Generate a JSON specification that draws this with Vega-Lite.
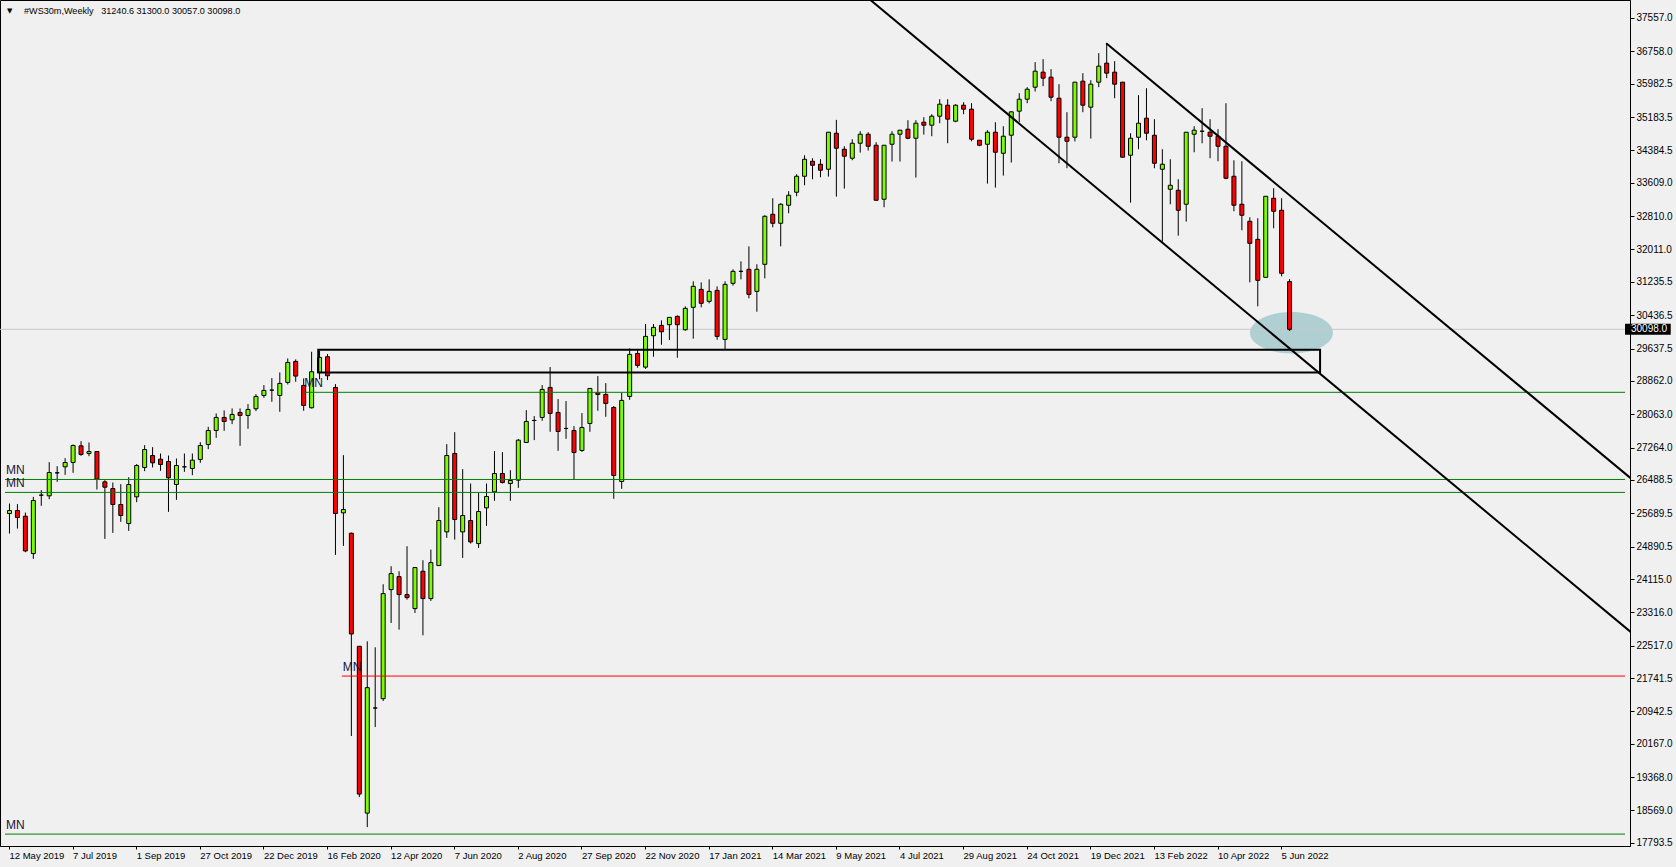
{
"$schema":"https://vega.github.io/schema/vega-lite/v6.json",
"width":1630,"height":846,
"autosize":{"type":"none"},
"padding":{"left":0,"top":0,"right":46,"bottom":21},
"background":"#F0F0F0",
"config":{"view":{"stroke":"#000000","strokeWidth":1,"fill":"#F0F0F0"},"font":"Liberation Sans",
 "axis":{"grid":false,"labelOverlap":false,"labelFlush":false,"labelBound":false,"labelColor":"#000000","tickColor":"#000000","domainColor":"#000000","domainWidth":1,"labelFont":"Liberation Sans","labelFontSize":10,"titleFontSize":0},
 "axisX":{"tickSize":3,"labelAlign":"left","labelBaseline":"top","labelPadding":1,"labelDx":-1,"labelFontSize":9.5,"labelOverlap":false},
 "axisY":{"tickSize":4,"labelAlign":"left","labelBaseline":"middle","labelPadding":2,"labelFontSize":10,"labelOverlap":false}},
"datasets":{
"candles":[
{"date":"2019-05-12","open":25684,"high":25924,"low":25204,"close":25756},
{"date":"2019-05-19","open":25756,"high":25908,"low":25324,"close":25588},
{"date":"2019-05-26","open":25620,"high":25708,"low":24757,"close":24788},
{"date":"2019-06-02","open":24724,"high":26084,"low":24597,"close":25996},
{"date":"2019-06-09","open":26124,"high":26244,"low":25868,"close":26124},
{"date":"2019-06-16","open":26108,"high":26915,"low":26028,"close":26667},
{"date":"2019-06-23","open":26659,"high":26819,"low":26443,"close":26659},
{"date":"2019-06-30","open":26803,"high":27011,"low":26611,"close":26907},
{"date":"2019-07-07","open":26907,"high":27338,"low":26659,"close":27314},
{"date":"2019-07-14","open":27306,"high":27418,"low":27066,"close":27098},
{"date":"2019-07-21","open":27122,"high":27386,"low":27058,"close":27170},
{"date":"2019-07-28","open":27170,"high":27180,"low":26259,"close":26507},
{"date":"2019-08-04","open":26443,"high":26483,"low":25077,"close":26315},
{"date":"2019-08-11","open":26283,"high":26427,"low":25220,"close":25900},
{"date":"2019-08-18","open":25900,"high":26387,"low":25484,"close":25636},
{"date":"2019-08-25","open":25444,"high":26555,"low":25268,"close":26379},
{"date":"2019-09-01","open":26084,"high":26867,"low":25956,"close":26835},
{"date":"2019-09-08","open":26787,"high":27322,"low":26699,"close":27218},
{"date":"2019-09-15","open":27074,"high":27274,"low":26787,"close":26899},
{"date":"2019-09-22","open":26987,"high":27122,"low":26707,"close":26859},
{"date":"2019-09-29","open":26931,"high":27074,"low":25724,"close":26539},
{"date":"2019-10-06","open":26379,"high":27002,"low":26012,"close":26835},
{"date":"2019-10-13","open":26803,"high":27122,"low":26683,"close":26803},
{"date":"2019-10-20","open":26763,"high":27122,"low":26603,"close":26963},
{"date":"2019-10-27","open":26979,"high":27394,"low":26899,"close":27314},
{"date":"2019-11-03","open":27338,"high":27762,"low":27226,"close":27674},
{"date":"2019-11-10","open":27674,"high":28082,"low":27498,"close":27986},
{"date":"2019-11-17","open":27986,"high":28154,"low":27666,"close":27890},
{"date":"2019-11-24","open":27930,"high":28202,"low":27826,"close":28058},
{"date":"2019-12-01","open":28106,"high":28202,"low":27306,"close":28034},
{"date":"2019-12-08","open":28034,"high":28306,"low":27714,"close":28178},
{"date":"2019-12-15","open":28194,"high":28545,"low":28138,"close":28489},
{"date":"2019-12-22","open":28513,"high":28761,"low":28457,"close":28633},
{"date":"2019-12-29","open":28641,"high":28929,"low":28362,"close":28641},
{"date":"2020-01-05","open":28513,"high":29065,"low":28122,"close":28801},
{"date":"2020-01-12","open":28825,"high":29401,"low":28777,"close":29305},
{"date":"2020-01-19","open":29329,"high":29377,"low":28841,"close":28977},
{"date":"2020-01-26","open":28753,"high":28921,"low":28146,"close":28274},
{"date":"2020-02-02","open":28218,"high":29560,"low":28202,"close":29081},
{"date":"2020-02-09","open":29065,"high":29580,"low":28900,"close":29425},
{"date":"2020-02-16","open":29440,"high":29504,"low":28881,"close":28985},
{"date":"2020-02-23","open":28705,"high":28785,"low":24693,"close":25684},
{"date":"2020-03-01","open":25700,"high":27083,"low":24908,"close":25780},
{"date":"2020-03-08","open":25212,"high":25228,"low":20353,"close":22798},
{"date":"2020-03-15","open":22503,"high":22510,"low":18890,"close":18962},
{"date":"2020-03-22","open":18506,"high":22622,"low":18170,"close":21512},
{"date":"2020-03-29","open":21024,"high":22479,"low":20568,"close":21024},
{"date":"2020-04-05","open":21248,"high":23989,"low":21192,"close":23766},
{"date":"2020-04-12","open":23861,"high":24421,"low":23062,"close":24245},
{"date":"2020-04-19","open":24173,"high":24301,"low":22902,"close":23742},
{"date":"2020-04-26","open":23742,"high":24900,"low":23622,"close":23670},
{"date":"2020-05-03","open":23406,"high":24395,"low":23302,"close":24389},
{"date":"2020-05-10","open":24301,"high":24565,"low":22766,"close":23646},
{"date":"2020-05-17","open":23646,"high":24820,"low":23590,"close":24508},
{"date":"2020-05-24","open":24437,"high":25836,"low":24430,"close":25516},
{"date":"2020-05-31","open":25244,"high":27346,"low":25100,"close":27075},
{"date":"2020-06-07","open":27123,"high":27634,"low":25060,"close":25540},
{"date":"2020-06-14","open":25244,"high":26747,"low":24620,"close":25636},
{"date":"2020-06-21","open":25516,"high":26403,"low":24964,"close":25004},
{"date":"2020-06-28","open":24964,"high":26179,"low":24860,"close":25732},
{"date":"2020-07-05","open":25820,"high":26403,"low":25388,"close":26092},
{"date":"2020-07-12","open":26204,"high":27179,"low":25988,"close":26643},
{"date":"2020-07-19","open":26643,"high":27155,"low":26403,"close":26427},
{"date":"2020-07-26","open":26403,"high":26723,"low":25988,"close":26475},
{"date":"2020-08-02","open":26483,"high":27466,"low":26299,"close":27442},
{"date":"2020-08-09","open":27386,"high":28162,"low":27380,"close":27890},
{"date":"2020-08-16","open":27914,"high":28018,"low":27442,"close":27914},
{"date":"2020-08-23","open":27986,"high":28761,"low":27906,"close":28657},
{"date":"2020-08-30","open":28705,"high":29193,"low":27642,"close":28082},
{"date":"2020-09-06","open":28106,"high":28426,"low":27186,"close":27650},
{"date":"2020-09-13","open":27722,"high":28378,"low":27474,"close":27722},
{"date":"2020-09-20","open":27674,"high":27778,"low":26507,"close":27146},
{"date":"2020-09-27","open":27194,"high":28090,"low":27162,"close":27746},
{"date":"2020-10-04","open":27842,"high":28690,"low":27642,"close":28681},
{"date":"2020-10-11","open":28577,"high":28977,"low":28146,"close":28537},
{"date":"2020-10-18","open":28537,"high":28809,"low":28002,"close":28322},
{"date":"2020-10-25","open":28226,"high":28258,"low":26036,"close":26595},
{"date":"2020-11-01","open":26451,"high":28577,"low":26275,"close":28394},
{"date":"2020-11-08","open":28490,"high":29640,"low":28410,"close":29497},
{"date":"2020-11-15","open":29520,"high":29620,"low":29177,"close":29233},
{"date":"2020-11-22","open":29192,"high":30224,"low":29150,"close":29928},
{"date":"2020-11-29","open":29944,"high":30224,"low":29441,"close":30144},
{"date":"2020-12-06","open":30192,"high":30312,"low":29728,"close":30040},
{"date":"2020-12-13","open":30208,"high":30390,"low":29840,"close":30384},
{"date":"2020-12-20","open":30408,"high":30432,"low":29417,"close":30208},
{"date":"2020-12-27","open":30088,"high":30648,"low":30064,"close":30600},
{"date":"2021-01-03","open":30624,"high":31247,"low":29872,"close":31127},
{"date":"2021-01-10","open":31055,"high":31223,"low":30624,"close":30720},
{"date":"2021-01-17","open":30768,"high":31295,"low":30720,"close":31007},
{"date":"2021-01-24","open":31031,"high":31127,"low":29848,"close":29928},
{"date":"2021-01-31","open":29856,"high":31247,"low":29617,"close":31175},
{"date":"2021-02-07","open":31199,"high":31535,"low":31143,"close":31487},
{"date":"2021-02-14","open":31487,"high":31727,"low":31295,"close":31487},
{"date":"2021-02-21","open":31535,"high":32086,"low":30840,"close":30935},
{"date":"2021-02-28","open":31007,"high":31655,"low":30520,"close":31535},
{"date":"2021-03-07","open":31655,"high":32830,"low":31319,"close":32806},
{"date":"2021-03-14","open":32854,"high":33238,"low":32542,"close":32638},
{"date":"2021-03-21","open":32638,"high":33118,"low":32086,"close":33094},
{"date":"2021-03-28","open":33070,"high":33406,"low":32878,"close":33310},
{"date":"2021-04-04","open":33382,"high":33813,"low":33286,"close":33765},
{"date":"2021-04-11","open":33765,"high":34268,"low":33549,"close":34172},
{"date":"2021-04-18","open":34124,"high":34196,"low":33693,"close":34028},
{"date":"2021-04-25","open":34052,"high":34172,"low":33741,"close":33909},
{"date":"2021-05-02","open":33933,"high":34825,"low":33757,"close":34820},
{"date":"2021-05-09","open":34796,"high":35116,"low":33278,"close":34436},
{"date":"2021-05-16","open":34412,"high":34484,"low":33469,"close":34245},
{"date":"2021-05-23","open":34197,"high":34652,"low":34149,"close":34556},
{"date":"2021-05-30","open":34556,"high":34844,"low":34332,"close":34772},
{"date":"2021-06-06","open":34772,"high":34820,"low":34380,"close":34484},
{"date":"2021-06-13","open":34508,"high":34580,"low":33185,"close":33190},
{"date":"2021-06-20","open":33214,"high":34515,"low":33022,"close":34508},
{"date":"2021-06-27","open":34532,"high":34844,"low":34117,"close":34772},
{"date":"2021-07-04","open":34772,"high":34875,"low":34117,"close":34868},
{"date":"2021-07-11","open":34892,"high":35108,"low":34652,"close":34676},
{"date":"2021-07-18","open":34676,"high":35108,"low":33733,"close":35036},
{"date":"2021-07-25","open":35060,"high":35180,"low":34764,"close":34988},
{"date":"2021-08-01","open":34988,"high":35252,"low":34724,"close":35204},
{"date":"2021-08-08","open":35204,"high":35611,"low":35036,"close":35492},
{"date":"2021-08-15","open":35467,"high":35611,"low":34556,"close":35132},
{"date":"2021-08-22","open":35084,"high":35492,"low":35060,"close":35467},
{"date":"2021-08-29","open":35467,"high":35539,"low":35252,"close":35372},
{"date":"2021-09-05","open":35372,"high":35516,"low":34604,"close":34652},
{"date":"2021-09-12","open":34628,"high":34635,"low":34484,"close":34508},
{"date":"2021-09-19","open":34532,"high":34868,"low":33589,"close":34820},
{"date":"2021-09-26","open":34820,"high":35060,"low":33493,"close":34340},
{"date":"2021-10-03","open":34316,"high":34964,"low":33781,"close":34724},
{"date":"2021-10-10","open":34748,"high":35324,"low":34093,"close":35308},
{"date":"2021-10-17","open":35324,"high":35755,"low":35060,"close":35611},
{"date":"2021-10-24","open":35611,"high":35899,"low":35516,"close":35851},
{"date":"2021-10-31","open":35899,"high":36499,"low":35795,"close":36283},
{"date":"2021-11-07","open":36259,"high":36571,"low":35923,"close":36115},
{"date":"2021-11-14","open":36139,"high":36331,"low":35563,"close":35659},
{"date":"2021-11-21","open":35635,"high":35971,"low":34077,"close":34700},
{"date":"2021-11-28","open":34700,"high":35300,"low":33957,"close":34604},
{"date":"2021-12-05","open":34700,"high":36025,"low":34600,"close":36019},
{"date":"2021-12-12","open":36043,"high":36235,"low":35300,"close":35467},
{"date":"2021-12-19","open":35420,"high":36067,"low":34668,"close":35971},
{"date":"2021-12-26","open":36019,"high":36715,"low":35899,"close":36403},
{"date":"2022-01-02","open":36475,"high":36954,"low":36115,"close":36235},
{"date":"2022-01-09","open":36259,"high":36523,"low":35635,"close":35971},
{"date":"2022-01-16","open":36019,"high":36025,"low":34215,"close":34221},
{"date":"2022-01-23","open":34269,"high":34796,"low":33133,"close":34676},
{"date":"2022-01-30","open":34700,"high":35707,"low":34412,"close":35036},
{"date":"2022-02-06","open":35156,"high":35875,"low":34628,"close":34796},
{"date":"2022-02-13","open":34748,"high":35132,"low":33957,"close":34077},
{"date":"2022-02-20","open":33933,"high":34412,"low":32198,"close":34053},
{"date":"2022-02-27","open":33453,"high":34172,"low":33094,"close":33549},
{"date":"2022-03-06","open":33429,"high":33693,"low":32342,"close":32950},
{"date":"2022-03-13","open":33094,"high":34825,"low":32678,"close":34820},
{"date":"2022-03-20","open":34772,"high":34964,"low":34340,"close":34868},
{"date":"2022-03-27","open":34844,"high":35396,"low":34556,"close":34844},
{"date":"2022-04-03","open":34820,"high":35132,"low":34196,"close":34724},
{"date":"2022-04-10","open":34724,"high":34892,"low":34124,"close":34484},
{"date":"2022-04-17","open":34484,"high":35515,"low":33693,"close":33717},
{"date":"2022-04-24","open":33765,"high":34148,"low":32926,"close":33070},
{"date":"2022-05-01","open":33094,"high":34124,"low":32470,"close":32830},
{"date":"2022-05-08","open":32686,"high":32782,"low":31223,"close":32158},
{"date":"2022-05-15","open":32254,"high":32758,"low":30648,"close":31271},
{"date":"2022-05-22","open":31343,"high":33290,"low":31340,"close":33285},
{"date":"2022-05-29","open":33237,"high":33477,"low":32518,"close":32926},
{"date":"2022-06-05","open":32950,"high":33237,"low":31367,"close":31439},
{"date":"2022-06-12","open":31240.6,"high":31300,"low":30057,"close":30098}
],
"levels":[
{"start":"2020-01-26","end":"2023-04-03T18:00:00Z","price":28588,"kind":"support","label":"MN"},
{"start":"2019-05-08T12:00:00Z","end":"2023-04-03T18:00:00Z","price":26500,"kind":"support","label":"MN"},
{"start":"2019-05-08T12:00:00Z","end":"2023-04-03T18:00:00Z","price":26190,"kind":"support","label":"MN"},
{"start":"2020-02-29","end":"2023-04-03T18:00:00Z","price":21790,"kind":"pivot","label":"MN"},
{"start":"2019-05-08T12:00:00Z","end":"2023-04-03T18:00:00Z","price":18003,"kind":"support","label":"MN"}
],
"trends":[
{"line":"lower","date":"2021-05-23","price":38360},
{"line":"lower","date":"2023-04-09","price":22841},
{"line":"upper","date":"2022-01-02","price":36954},
{"line":"upper","date":"2023-04-09","price":26526}
],
"zone":[{"start":"2020-02-08T07:00:00Z","end":"2022-07-09T07:00:00Z","top":29607,"bottom":29063}],
"focus":[{"date":"2022-06-14T02:00:00Z","price":30014}],
"bid":[{"price":30098,"label":"30098.0","from":"2023-04-03T18:00:00Z","to":"2023-05-14","lo":29966,"hi":30230}],
"header":[{"date":"2019-05-08T12:00:00Z","price":37988,"label":"#WS30m,Weekly\u00a0\u00a0 31240.6 31300.0 30057.0 30098.0","icon":"▼"}]
},
"layer":[
{"data":{"name":"focus"},
 "mark":{"type":"point","shape":"M -1 0 A 1 0.5 0 1 0 1 0 A 1 0.5 0 1 0 -1 0 Z","size":6889,"filled":true,"fill":"#B0CFD3","opacity":1,"strokeWidth":0},
 "encoding":{
  "x":{"field":"date","type":"temporal","scale":{"type":"utc","domain":[{"year":2019,"month":5,"date":8,"hours":12,"utc":true},{"year":2023,"month":4,"date":3,"hours":18,"utc":true}]},
   "axis":{"orient":"bottom","tickCount":100,"values":[{"year":2019,"month":5,"date":12,"utc":true},{"year":2019,"month":7,"date":7,"utc":true},{"year":2019,"month":9,"date":1,"utc":true},{"year":2019,"month":10,"date":27,"utc":true},{"year":2019,"month":12,"date":22,"utc":true},{"year":2020,"month":2,"date":16,"utc":true},{"year":2020,"month":4,"date":12,"utc":true},{"year":2020,"month":6,"date":7,"utc":true},{"year":2020,"month":8,"date":2,"utc":true},{"year":2020,"month":9,"date":27,"utc":true},{"year":2020,"month":11,"date":22,"utc":true},{"year":2021,"month":1,"date":17,"utc":true},{"year":2021,"month":3,"date":14,"utc":true},{"year":2021,"month":5,"date":9,"utc":true},{"year":2021,"month":7,"date":4,"utc":true},{"year":2021,"month":8,"date":29,"utc":true},{"year":2021,"month":10,"date":24,"utc":true},{"year":2021,"month":12,"date":19,"utc":true},{"year":2022,"month":2,"date":13,"utc":true},{"year":2022,"month":4,"date":10,"utc":true},{"year":2022,"month":6,"date":5,"utc":true}],
    "format":"%-d %b %Y","title":null,"labelOverlap":false}},
  "y":{"field":"price","type":"quantitative","scale":{"domain":[17718,37988],"zero":false,"nice":false},
   "axis":{"orient":"right","tickCount":100,"values":[37557.0,36758.0,35982.5,35183.5,34384.5,33609.0,32810.0,32011.0,31235.5,30436.5,29637.5,28862.0,28063.0,27264.0,26488.5,25689.5,24890.5,24115.0,23316.0,22517.0,21741.5,20942.5,20167.0,19368.0,18569.0,17793.5],
    "format":".1f","title":null,"labelOverlap":false}}
 }},
{"data":{"name":"bid"},
 "mark":{"type":"rule","color":"#C8C8C8","strokeWidth":1},
 "encoding":{"y":{"field":"price","type":"quantitative","scale":{"domain":[17718,37988],"zero":false,"nice":false}}}},
{"data":{"name":"candles"},
 "mark":{"type":"rule","color":"#000000","strokeWidth":1,"xOffset":0.5},
 "encoding":{
  "x":{"field":"date","type":"temporal","scale":{"type":"utc","domain":[{"year":2019,"month":5,"date":8,"hours":12,"utc":true},{"year":2023,"month":4,"date":3,"hours":18,"utc":true}]}},
  "y":{"field":"low","type":"quantitative","scale":{"domain":[17718,37988],"zero":false,"nice":false}},
  "y2":{"field":"high"}}},
{"data":{"name":"candles"},
 "mark":{"type":"bar","size":4,"stroke":"#000000","strokeWidth":1,"xOffset":0.5},
 "encoding":{
  "x":{"field":"date","type":"temporal","scale":{"type":"utc","domain":[{"year":2019,"month":5,"date":8,"hours":12,"utc":true},{"year":2023,"month":4,"date":3,"hours":18,"utc":true}]}},
  "y":{"field":"open","type":"quantitative","scale":{"domain":[17718,37988],"zero":false,"nice":false}},
  "y2":{"field":"close"},
  "fill":{"condition":{"test":"datum.close > datum.open","value":"#7CFC00"},"value":"#FF0000"}}},
{"data":{"name":"levels"},
 "mark":{"type":"rule","strokeWidth":1},
 "encoding":{
  "x":{"field":"start","type":"temporal","scale":{"type":"utc","domain":[{"year":2019,"month":5,"date":8,"hours":12,"utc":true},{"year":2023,"month":4,"date":3,"hours":18,"utc":true}]}},
  "x2":{"field":"end"},
  "y":{"field":"price","type":"quantitative","scale":{"domain":[17718,37988],"zero":false,"nice":false}},
  "color":{"field":"kind","type":"nominal","scale":{"domain":["support","pivot"],"range":["#008000","#FF0000"]},"legend":null}}},
{"data":{"name":"levels"},
 "mark":{"type":"text","align":"left","baseline":"alphabetic","dx":1,"dy":-5,"fontSize":12,"font":"Liberation Sans","color":"#15153A"},
 "encoding":{
  "x":{"field":"start","type":"temporal","scale":{"type":"utc","domain":[{"year":2019,"month":5,"date":8,"hours":12,"utc":true},{"year":2023,"month":4,"date":3,"hours":18,"utc":true}]}},
  "y":{"field":"price","type":"quantitative","scale":{"domain":[17718,37988],"zero":false,"nice":false}},
  "text":{"field":"label"}}},
{"data":{"name":"zone"},
 "mark":{"type":"rect","filled":false,"stroke":"#000000","strokeWidth":2},
 "encoding":{
  "x":{"field":"start","type":"temporal","scale":{"type":"utc","domain":[{"year":2019,"month":5,"date":8,"hours":12,"utc":true},{"year":2023,"month":4,"date":3,"hours":18,"utc":true}]}},
  "x2":{"field":"end"},
  "y":{"field":"top","type":"quantitative","scale":{"domain":[17718,37988],"zero":false,"nice":false}},
  "y2":{"field":"bottom"}}},
{"data":{"name":"trends"},
 "mark":{"type":"line","color":"#000000","strokeWidth":2,"clip":true},
 "encoding":{
  "x":{"field":"date","type":"temporal","scale":{"type":"utc","domain":[{"year":2019,"month":5,"date":8,"hours":12,"utc":true},{"year":2023,"month":4,"date":3,"hours":18,"utc":true}]}},
  "y":{"field":"price","type":"quantitative","scale":{"domain":[17718,37988],"zero":false,"nice":false}},
  "detail":{"field":"line","type":"nominal"}}},
{"data":{"name":"bid"},
 "mark":{"type":"rect","fill":"#000000"},
 "encoding":{
  "x":{"field":"from","type":"temporal","scale":{"type":"utc","domain":[{"year":2019,"month":5,"date":8,"hours":12,"utc":true},{"year":2023,"month":4,"date":3,"hours":18,"utc":true}]}},
  "x2":{"field":"to"},
  "y":{"field":"lo","type":"quantitative","scale":{"domain":[17718,37988],"zero":false,"nice":false}},
  "y2":{"field":"hi"}}},
{"data":{"name":"bid"},
 "mark":{"type":"text","align":"left","baseline":"middle","dx":6,"fontSize":10,"font":"Liberation Sans","color":"#FFFFFF"},
 "encoding":{
  "x":{"field":"from","type":"temporal","scale":{"type":"utc","domain":[{"year":2019,"month":5,"date":8,"hours":12,"utc":true},{"year":2023,"month":4,"date":3,"hours":18,"utc":true}]}},
  "y":{"field":"price","type":"quantitative","scale":{"domain":[17718,37988],"zero":false,"nice":false}},
  "text":{"field":"label"}}},
{"data":{"name":"header"},
 "mark":{"type":"text","align":"left","baseline":"alphabetic","dx":19,"dy":14,"fontSize":9.1,"font":"Liberation Sans","color":"#000000"},
 "encoding":{
  "x":{"field":"date","type":"temporal","scale":{"type":"utc","domain":[{"year":2019,"month":5,"date":8,"hours":12,"utc":true},{"year":2023,"month":4,"date":3,"hours":18,"utc":true}]}},
  "y":{"field":"price","type":"quantitative","scale":{"domain":[17718,37988],"zero":false,"nice":false}},
  "text":{"field":"label"}}},
{"data":{"name":"header"},
 "mark":{"type":"text","align":"left","baseline":"alphabetic","dx":2,"dy":13,"fontSize":7,"font":"DejaVu Sans","color":"#000000"},
 "encoding":{
  "x":{"field":"date","type":"temporal","scale":{"type":"utc","domain":[{"year":2019,"month":5,"date":8,"hours":12,"utc":true},{"year":2023,"month":4,"date":3,"hours":18,"utc":true}]}},
  "y":{"field":"price","type":"quantitative","scale":{"domain":[17718,37988],"zero":false,"nice":false}},
  "text":{"field":"icon"}}}
]
}
